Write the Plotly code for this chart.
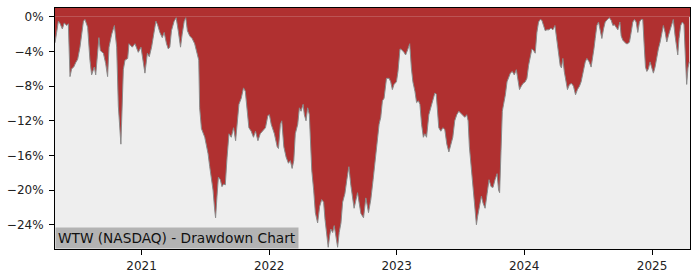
import plotly.graph_objects as go
import pandas as pd

# Dates as decimal years, drawdown values in percent
year_frac = [
    2020.323, 2020.349, 2020.363, 2020.380, 2020.395, 2020.414, 2020.427, 2020.440, 2020.453, 2020.469,
    2020.484, 2020.500, 2020.518, 2020.545, 2020.557, 2020.578, 2020.596, 2020.609, 2020.630, 2020.641,
    2020.666, 2020.677, 2020.701, 2020.719, 2020.734, 2020.745, 2020.766, 2020.787, 2020.805, 2020.818,
    2020.838, 2020.857, 2020.870, 2020.891, 2020.901, 2020.927, 2020.948, 2020.974, 2020.995, 2021.013,
    2021.026, 2021.045, 2021.060, 2021.078, 2021.099, 2021.112, 2021.125, 2021.143, 2021.162, 2021.177,
    2021.195, 2021.209, 2021.221, 2021.234, 2021.255, 2021.271, 2021.287, 2021.305, 2021.318, 2021.334,
    2021.346, 2021.359, 2021.377, 2021.396, 2021.416, 2021.438, 2021.448, 2021.455, 2021.469, 2021.495,
    2021.521, 2021.534, 2021.547, 2021.560, 2021.573, 2021.580, 2021.591, 2021.602, 2021.617, 2021.630,
    2021.643, 2021.656, 2021.670, 2021.685, 2021.703, 2021.721, 2021.737, 2021.748, 2021.763, 2021.781,
    2021.799, 2021.813, 2021.826, 2021.841, 2021.859, 2021.877, 2021.893, 2021.912, 2021.930, 2021.951,
    2021.971, 2021.990, 2022.002, 2022.016, 2022.041, 2022.063, 2022.073, 2022.088, 2022.099, 2022.115,
    2022.133, 2022.151, 2022.166, 2022.180, 2022.193, 2022.205, 2022.224, 2022.237, 2022.250, 2022.266,
    2022.276, 2022.289, 2022.302, 2022.315, 2022.334, 2022.349, 2022.362, 2022.380, 2022.396, 2022.412,
    2022.427, 2022.438, 2022.453, 2022.463, 2022.474, 2022.484, 2022.498, 2022.510, 2022.523, 2022.537,
    2022.549, 2022.563, 2022.576, 2022.594, 2022.609, 2022.625, 2022.641, 2022.656, 2022.666, 2022.693,
    2022.703, 2022.719, 2022.740, 2022.758, 2022.779, 2022.797, 2022.815, 2022.836, 2022.849, 2022.862,
    2022.875, 2022.888, 2022.901, 2022.920, 2022.940, 2022.953, 2022.966, 2022.979, 2022.998, 2023.010,
    2023.026, 2023.039, 2023.057, 2023.070, 2023.086, 2023.102, 2023.115, 2023.127, 2023.143, 2023.156,
    2023.170, 2023.182, 2023.195, 2023.209, 2023.221, 2023.234, 2023.252, 2023.268, 2023.284, 2023.299,
    2023.310, 2023.320, 2023.330, 2023.346, 2023.362, 2023.377, 2023.393, 2023.409, 2023.424, 2023.440,
    2023.455, 2023.471, 2023.487, 2023.502, 2023.518, 2023.534, 2023.549, 2023.560, 2023.570, 2023.586,
    2023.604, 2023.617, 2023.625, 2023.635, 2023.651, 2023.664, 2023.677, 2023.693, 2023.709, 2023.724,
    2023.740, 2023.755, 2023.771, 2023.787, 2023.799, 2023.807, 2023.818, 2023.828, 2023.838, 2023.852,
    2023.865, 2023.877, 2023.891, 2023.906, 2023.922, 2023.938, 2023.951, 2023.963, 2023.977, 2023.990,
    2024.008, 2024.021, 2024.034, 2024.047, 2024.060, 2024.073, 2024.086, 2024.099, 2024.112, 2024.125,
    2024.138, 2024.151, 2024.164, 2024.177, 2024.193, 2024.209, 2024.224, 2024.240, 2024.250, 2024.260,
    2024.271, 2024.281, 2024.291, 2024.302, 2024.313, 2024.328, 2024.338, 2024.354, 2024.370, 2024.385,
    2024.401, 2024.416, 2024.432, 2024.445, 2024.463, 2024.477, 2024.490, 2024.508, 2024.523, 2024.534,
    2024.545, 2024.555, 2024.568, 2024.581, 2024.594, 2024.607, 2024.620, 2024.633, 2024.651, 2024.666,
    2024.680, 2024.693, 2024.705, 2024.719, 2024.732, 2024.748, 2024.758, 2024.771, 2024.784, 2024.797,
    2024.810, 2024.823, 2024.836, 2024.849, 2024.862, 2024.875, 2024.888, 2024.901, 2024.914, 2024.927,
    2024.938, 2024.948, 2024.959, 2024.971, 2024.984, 2024.998, 2025.010, 2025.023, 2025.037, 2025.049,
    2025.063, 2025.076, 2025.088, 2025.102, 2025.115, 2025.127, 2025.141, 2025.154, 2025.166, 2025.180,
    2025.193, 2025.201, 2025.211, 2025.224, 2025.237, 2025.250, 2025.260, 2025.271, 2025.281, 2025.291,
]

drawdown_pct = [
    -3.0, -0.5, -0.8, -1.4, -0.7, -1.0, -0.8, -6.9, -6.0, -5.8,
    -5.3, -4.9, -3.5, -0.5, -0.3, -1.2, -5.0, -6.7, -5.8, -6.7,
    -2.4, -3.9, -4.2, -5.4, -6.9, -3.5, -2.0, -1.0, -3.5, -10.3,
    -14.7, -6.1, -5.0, -4.8, -3.1, -3.5, -3.1, -4.1, -3.5, -5.0,
    -6.5, -4.2, -4.6, -3.5, -1.6, -0.5, -0.9, -1.8, -2.4, -1.8,
    -3.1, -3.7, -3.5, -1.6, -0.5, -0.1, -1.6, -3.5, -2.0, -0.5,
    -0.1, -1.6, -2.2, -2.5, -3.1, -4.4, -5.0, -10.5, -12.9, -13.9,
    -15.8, -17.3, -18.5, -20.0, -22.3, -23.2, -20.7, -18.5, -18.8, -19.6,
    -19.3, -19.4, -16.2, -13.5, -13.9, -12.8, -14.3, -12.4, -10.1, -9.4,
    -8.2, -8.6, -10.5, -12.8, -13.2, -13.9, -13.2, -14.3, -13.5, -13.2,
    -12.8, -11.4, -11.3, -12.4, -13.5, -15.0, -15.2, -12.4, -12.0, -15.0,
    -16.2, -16.9, -16.6, -17.5, -16.6, -13.5, -12.4, -10.5, -10.9, -10.1,
    -11.3, -12.0, -10.5, -11.3, -17.7, -20.0, -22.6, -23.8, -21.9, -21.1,
    -21.4, -23.4, -25.3, -26.6, -25.3, -24.5, -24.9, -24.1, -25.3, -26.6,
    -24.9, -23.8, -21.4, -20.4, -18.8, -17.3, -19.5, -21.1, -22.1, -20.3,
    -21.4, -22.7, -23.2, -20.9, -22.6, -21.1, -18.8, -16.2, -14.0, -12.4,
    -11.6, -9.7, -9.4, -7.1, -7.1, -7.5, -8.4, -7.8, -7.5, -6.3,
    -3.7, -3.8, -4.1, -4.4, -3.8, -3.1, -5.9, -7.5, -8.6, -9.9,
    -9.7, -10.1, -12.4, -13.9, -13.5, -13.9, -11.3, -10.5, -9.7, -8.8,
    -8.9, -11.3, -12.8, -13.2, -12.8, -13.0, -14.7, -15.6, -14.7, -13.9,
    -12.0, -11.3, -10.9, -11.1, -11.3, -11.6, -11.3, -12.0, -15.0, -17.7,
    -20.7, -22.3, -24.0, -23.0, -21.5, -20.7, -21.5, -22.1, -20.4, -18.8,
    -19.6, -19.7, -18.8, -18.1, -20.0, -20.3, -15.4, -10.9, -10.1, -9.0,
    -7.5, -6.9, -6.5, -6.3, -6.7, -6.1, -7.5, -8.4, -8.0, -7.7,
    -7.5, -7.1, -5.6, -4.8, -3.7, -3.9, -4.2, -1.8, -0.6, -0.3,
    -0.4, -1.0, -1.6, -1.5, -1.5, -1.3, -1.5, -1.0, -2.2, -2.9,
    -4.4, -5.6, -5.9, -4.8, -6.3, -7.8, -8.4, -7.8, -7.7, -8.0,
    -9.0, -8.4, -8.0, -7.5, -6.3, -5.2, -4.8, -5.2, -5.8, -4.4,
    -3.7, -2.5, -1.0, -0.6, -1.8, -2.5, -1.4, -0.6, -0.3, -0.1,
    -0.4, -1.0, -0.9, -1.3, -1.5, -0.6, -2.2, -2.7, -2.9, -3.1,
    -3.1, -2.9, -1.8, -0.6, -0.3, -0.6, -1.8, -0.6, -0.3, -0.3,
    -3.3, -5.8, -6.3, -6.0, -5.2, -5.8, -6.5, -5.8, -4.4, -3.7,
    -2.9, -1.8, -1.0, -1.8, -2.9, -2.2, -1.5, -0.6, -0.3, -2.2,
    -3.3, -4.4, -2.5, -1.0, -0.6, -0.9, -4.4, -7.8, -5.9, -5.2,
]

y_tickvals = [0, -4, -8, -12, -16, -20, -24]
y_ticktext = ["0%", "\u22124%", "\u22128%", "\u221212%", "\u221216%", "\u221220%", "\u221224%"]
x_tick_years = [2021, 2022, 2023, 2024, 2025]
x_range_years = [2020.3227, 2025.297]
y_range = [-26.8, 1.02]
title_text = "WTW (NASDAQ) - Drawdown Chart"


def to_date(y):
    yr = int(y)
    start = pd.Timestamp(f"{yr}-01-01")
    end = pd.Timestamp(f"{yr + 1}-01-01")
    return start + (end - start) * (y - yr)


dates = [to_date(v) for v in year_frac]
RED = "#b03030"

fig = go.Figure()
fig.add_trace(go.Scatter(
    x=dates, y=drawdown_pct, mode="lines", fill="tozeroy",
    fillcolor=RED, line=dict(color="#8a8a8a", width=1), hoverinfo="skip",
))

# red band above 0% up to the top of the axes
fig.add_shape(type="rect", xref="paper", yref="y", x0=0, x1=1, y0=0, y1=y_range[1],
              fillcolor=RED, line=dict(width=0), layer="below")

fig.add_annotation(
    xref="paper", yref="paper", x=0, y=0, xanchor="left", yanchor="bottom",
    text=title_text, showarrow=False, bgcolor="#b3b3b3", borderpad=2,
    font=dict(family="DejaVu Sans", size=13.7, color="#111111"),
)

axis_common = dict(showline=True, linecolor="black", linewidth=1, mirror=True,
                   ticks="outside", ticklen=5, tickcolor="black", showgrid=False,
                   zeroline=False, tickfont=dict(family="DejaVu Sans", size=12, color="#222222"))

fig.update_xaxes(type="date", range=[to_date(x_range_years[0]), to_date(x_range_years[1])],
                 tickvals=[pd.Timestamp(f"{y}-01-01") for y in x_tick_years],
                 ticktext=[str(y) for y in x_tick_years], ticklabelstandoff=1, **axis_common)
fig.update_yaxes(range=y_range, tickvals=y_tickvals, ticktext=y_ticktext,
                 ticklabelstandoff=3, **axis_common)

fig.update_layout(
    width=700, height=280, margin=dict(l=53, r=10, t=7, b=28),
    plot_bgcolor="#eeeeee", paper_bgcolor="white", showlegend=False,
)

fig.write_html("out.html")
